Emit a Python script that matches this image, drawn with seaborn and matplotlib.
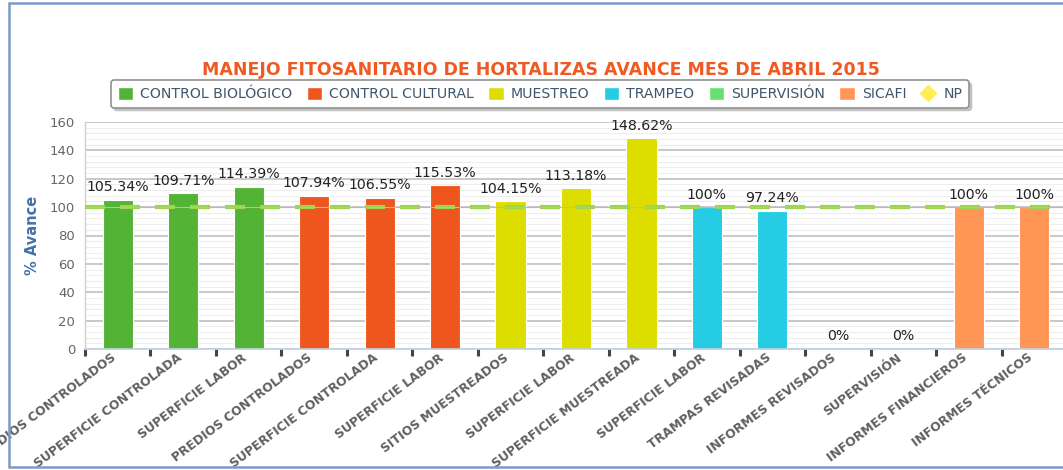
import matplotlib
matplotlib.use("Agg")
import matplotlib.pyplot as plt
import matplotlib.transforms as mtransforms
import seaborn as sns
import pandas as pd
import numpy as np
from matplotlib.patches import Patch
from matplotlib.lines import Line2D

title = "MANEJO FITOSANITARIO DE HORTALIZAS AVANCE MES DE ABRIL 2015"
categories = ["PREDIOS CONTROLADOS", "SUPERFICIE CONTROLADA", "SUPERFICIE LABOR",
              "PREDIOS CONTROLADOS", "SUPERFICIE CONTROLADA", "SUPERFICIE LABOR",
              "SITIOS MUESTREADOS", "SUPERFICIE LABOR", "SUPERFICIE MUESTREADA",
              "SUPERFICIE LABOR", "TRAMPAS REVISADAS", "INFORMES REVISADOS",
              "SUPERVISIÓN", "INFORMES FINANCIEROS", "INFORMES TÉCNICOS"]
values = [105.34, 109.71, 114.39, 107.94, 106.55, 115.53, 104.15, 113.18, 148.62,
          100, 97.24, 0, 0, 100, 100]
groups = ["CONTROL BIOLÓGICO"] * 3 + ["CONTROL CULTURAL"] * 3 + ["MUESTREO"] * 3 + \
         ["TRAMPEO"] * 2 + ["SUPERVISIÓN"] * 2 + ["SICAFI"] * 2
legend_names = ["CONTROL BIOLÓGICO", "CONTROL CULTURAL", "MUESTREO", "TRAMPEO",
                "SUPERVISIÓN", "SICAFI"]
colors = ["#52B335", "#EE561E", "#DDDD00", "#26CCE3", "#66E070", "#FF9655"]
np_value = 100
np_color = "#FFEE55"
yticks = [0, 20, 40, 60, 80, 100, 120, 140, 160]

sns.set_theme(style="white")
plt.rcParams['font.family'] = ['DejaVu Sans']

df = pd.DataFrame({"idx": list(range(len(categories))), "val": values, "group": groups})

fig = plt.figure(figsize=(10.63, 4.70), dpi=100)
ax = fig.add_axes([85 / 1063, (470 - 349) / 470, (1067 - 85) / 1063, (349 - 122) / 470])

# grid
for y in np.arange(0, 161, 4):
    if y % 20 != 0:
        ax.axhline(y, color="#EEEEEE", lw=0.8, zorder=0)
for y in yticks:
    ax.axhline(y, color="#C8C8C8", lw=1.4, zorder=0.5)

sns.barplot(data=df, x="idx", y="val", hue="group", hue_order=legend_names,
            palette=dict(zip(legend_names, colors)), dodge=False, width=0.46,
            saturation=1, edgecolor="white", linewidth=0.8, legend=False, ax=ax, zorder=2)

ax.axhline(np_value, color="#9BD84A", lw=3, ls=(0, (4.8, 3.6)), zorder=3)
ax.axhline(np_value, color="#BBBBBB", lw=0.8, zorder=3.5)

for i, v in enumerate(values):
    ax.annotate(f"{v:g}%", (i, v), xytext=(0, 4), textcoords="offset points",
                ha="center", va="bottom", fontsize=10.2, color="#222222", zorder=5)

ax.set_xlim(-0.5, len(categories) - 0.5)
ax.set_ylim(0, 160)
ax.set_yticks(yticks)
ax.set_yticklabels([str(t) for t in yticks], fontsize=9.5, color="#666666")
ax.tick_params(axis="y", length=0, pad=7)
ax.set_xticks(range(len(categories)))
ax.set_xticklabels(categories, rotation=37, ha="right", rotation_mode="anchor",
                   fontsize=8.9, fontweight="bold", color="#606060")
ax.tick_params(axis="x", which="major", length=0, pad=3)
offset = mtransforms.ScaledTranslation(-7 / 100, 2 / 100, fig.dpi_scale_trans)
for lbl in ax.get_xticklabels():
    lbl.set_transform(lbl.get_transform() + offset)
ax.set_xticks(np.arange(-0.5, len(categories), 1), minor=True)
ax.tick_params(axis="x", which="minor", length=5, width=2.2, color="#444444",
               direction="out", bottom=True)
ax.set_xlabel("")
ax.set_ylabel("% Avance", fontsize=10.5, color="#4572A7", labelpad=7,
              fontweight="semibold")

for s in ["top", "right"]:
    ax.spines[s].set_visible(False)
ax.spines["left"].set_color("#D0D0D0")
ax.spines["left"].set_linewidth(1)
ax.spines["bottom"].set_color("#C0D0E0")
ax.spines["bottom"].set_linewidth(1.2)

fig.text(541 / 1063, 1 - 70 / 470, title, ha="center", va="center",
         fontsize=12.5, fontweight="bold", color="#F05A22")

handles = [Patch(facecolor=c, edgecolor="white", label=n) for n, c in zip(legend_names, colors)]
handles.append(Line2D([], [], marker="D", color="none", markerfacecolor=np_color,
                      markeredgecolor=np_color, markersize=8, label="NP"))
leg = fig.legend(handles=handles, loc="center", bbox_to_anchor=(540 / 1063, 1 - 94 / 470),
                 ncol=7, frameon=True, fancybox=True,
                 shadow={"color": "#AAAAAA", "alpha": 0.6},
                 fontsize=10.2, handlelength=1.1, handleheight=1.1, handletextpad=0.5,
                 columnspacing=1.0, borderpad=0.45, edgecolor="#909090")
for t in leg.get_texts():
    t.set_color("#3E576F")
leg.get_frame().set_linewidth(1.2)

# outer frame
fc = "#7A9CC6"
fig.add_artist(Line2D([8.5 / 1063, 8.5 / 1063], [1 - 3 / 470, 1 - 467 / 470],
                      transform=fig.transFigure, color=fc, lw=1.8))
fig.add_artist(Line2D([8.5 / 1063, 1.0], [1 - 3 / 470, 1 - 3 / 470],
                      transform=fig.transFigure, color=fc, lw=1.8))
fig.add_artist(Line2D([8.5 / 1063, 1.0], [1 - 467 / 470, 1 - 467 / 470],
                      transform=fig.transFigure, color=fc, lw=1.8))

fig.savefig("out.png", dpi=100)
